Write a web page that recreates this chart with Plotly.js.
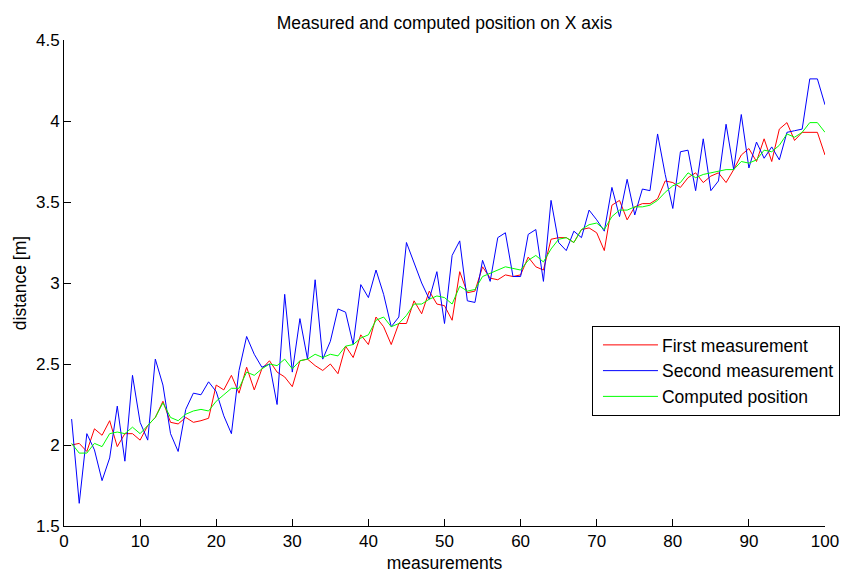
<!DOCTYPE html>
<html>
<head>
<meta charset="utf-8">
<script src="https://cdn.plot.ly/plotly-3.0.1.min.js"></script>
<style>
html,body{margin:0;padding:0;background:#fff;}
#chart{width:842px;height:573px;}
</style>
</head>
<body>
<div id="chart"></div>
<script>
const seriesNames = ["First measurement", "Second measurement", "Computed position"];
const seriesColors = ["#ff0000", "#0000ff", "#00ff00"];
const measurementIndex = Array.from({length: 100}, (_, k) => k + 1);

const firstMeasurement = [
  2.00, 2.01, 1.96, 2.10, 2.06, 2.15, 1.99, 2.07, 2.07, 2.03,
  2.12, 2.17, 2.27, 2.14, 2.13, 2.17, 2.14, 2.15, 2.165, 2.37,
  2.34, 2.43, 2.32, 2.48, 2.34, 2.47, 2.52, 2.45, 2.42, 2.36,
  2.52, 2.53, 2.49, 2.46, 2.50, 2.44, 2.61, 2.54, 2.68, 2.62,
  2.79, 2.73, 2.62, 2.75, 2.75, 2.89, 2.81, 2.95, 2.87, 2.86,
  2.77, 3.07, 2.94, 2.95, 3.10, 3.03, 3.02, 3.05, 3.04, 3.05,
  3.16, 3.10, 3.08, 3.27, 3.28, 3.28, 3.25, 3.33, 3.34, 3.31,
  3.20, 3.48, 3.51, 3.39, 3.47, 3.49, 3.49, 3.52, 3.63, 3.62,
  3.59, 3.65, 3.68, 3.62, 3.66, 3.68, 3.62, 3.70, 3.79, 3.83,
  3.75, 3.89, 3.75, 3.95, 3.99, 3.88, 3.93, 3.93, 3.93, 3.79
];

const secondMeasurement = [
  2.16, 1.64, 2.07, 1.97, 1.78, 1.92, 2.24, 1.90, 2.43, 2.14,
  2.03, 2.53, 2.37, 2.07, 1.96, 2.22, 2.32, 2.31, 2.39, 2.33,
  2.18, 2.07, 2.46, 2.67, 2.56, 2.48, 2.50, 2.25, 2.93, 2.45,
  2.78, 2.53, 3.02, 2.53, 2.64, 2.84, 2.82, 2.62, 2.99, 2.91,
  3.08, 2.93, 2.73, 2.79, 3.25, 3.13, 3.00, 2.90, 3.07, 2.75,
  3.17, 3.26, 2.89, 2.88, 3.14, 3.01, 3.28, 3.31, 3.04, 3.04,
  3.30, 3.33, 3.01, 3.51, 3.25, 3.20, 3.32, 3.28, 3.45, 3.39,
  3.32, 3.59, 3.41, 3.64, 3.42, 3.58, 3.57, 3.92, 3.67, 3.46,
  3.81, 3.82, 3.57, 3.89, 3.57, 3.63, 3.98, 3.70, 4.04, 3.71,
  3.87, 3.77, 3.84, 3.76, 3.93, 3.94, 3.95, 4.26, 4.26, 4.10
];

const computedPosition = [
  2.01, 1.95, 1.95, 2.01, 1.99, 2.07, 2.08, 2.07, 2.11, 2.07,
  2.12, 2.17, 2.26, 2.17, 2.15, 2.19, 2.21, 2.22, 2.21, 2.27,
  2.31, 2.35, 2.35, 2.45, 2.43, 2.47, 2.50, 2.49, 2.53, 2.47,
  2.52, 2.53, 2.56, 2.54, 2.56, 2.55, 2.61, 2.62, 2.66, 2.68,
  2.77, 2.79, 2.73, 2.75, 2.80, 2.87, 2.87, 2.90, 2.92, 2.91,
  2.87, 2.98, 2.95, 2.96, 3.04, 3.06, 3.08, 3.10, 3.09, 3.08,
  3.14, 3.17, 3.13, 3.21, 3.27, 3.28, 3.25, 3.33, 3.36, 3.37,
  3.33, 3.41, 3.45, 3.45, 3.47, 3.47, 3.48, 3.51, 3.56, 3.60,
  3.62, 3.68, 3.65, 3.67, 3.68, 3.69, 3.70, 3.70, 3.75, 3.74,
  3.76, 3.82, 3.81, 3.85, 3.92, 3.90, 3.93, 3.99, 3.99, 3.93
];

const xTickVals = [0, 10, 20, 30, 40, 50, 60, 70, 80, 90, 100];
const yTickVals = [1.5, 2, 2.5, 3, 3.5, 4, 4.5];
const yTickText = ["1.5", "2", "2.5", "3", "3.5", "4", "4.5"];

const allSeries = [firstMeasurement, secondMeasurement, computedPosition];
const FONT = "Liberation Sans, Arial, sans-serif";

const traces = allSeries.map((vals, s) => ({
  type: "scatter",
  mode: "lines",
  x: measurementIndex,
  y: vals,
  name: seriesNames[s],
  line: {color: seriesColors[s], width: 1},
  hoverinfo: "skip"
}));

const layout = {
  width: 842,
  height: 573,
  margin: {l: 64, r: 17, t: 40, b: 47, pad: 0, autoexpand: false},
  paper_bgcolor: "#ffffff",
  plot_bgcolor: "#ffffff",
  font: {family: FONT, size: 17, color: "#000"},
  title: {
    text: "Measured and computed position on X axis",
    font: {family: FONT, size: 17.5, color: "#000"},
    x: 0.5, xref: "paper", xanchor: "center",
    y: 1, yref: "paper", yanchor: "bottom",
    pad: {b: 11}
  },
  showlegend: true,
  legend: {
    x: 0.6938, y: 0.4115, xref: "paper", yref: "paper",
    xanchor: "left", yanchor: "top",
    bgcolor: "#ffffff",
    bordercolor: "#000000",
    borderwidth: 1,
    font: {family: FONT, size: 17.5, color: "#000"},
    tracegroupgap: 0,
    itemwidth: 59
  },
  xaxis: {
    range: [0, 100],
    tickmode: "array",
    tickvals: xTickVals,
    ticktext: xTickVals.map(String),
    ticks: "inside",
    ticklen: 7,
    tickwidth: 1,
    tickcolor: "#000",
    showline: true,
    linecolor: "#000",
    linewidth: 1,
    showgrid: false,
    zeroline: false,
    mirror: false,
    automargin: false,
    tickfont: {family: FONT, size: 17, color: "#000"},
    title: {text: "measurements", font: {family: FONT, size: 17.5, color: "#000"}, standoff: 7}
  },
  yaxis: {
    range: [1.5, 4.5],
    tickmode: "array",
    tickvals: yTickVals,
    ticktext: yTickText,
    ticks: "inside",
    ticklen: 7,
    tickwidth: 1,
    tickcolor: "#000",
    showline: true,
    linecolor: "#000",
    linewidth: 1,
    showgrid: false,
    zeroline: false,
    mirror: false,
    automargin: false,
    tickfont: {family: FONT, size: 17, color: "#000"},
    title: {text: "distance [m]", font: {family: FONT, size: 17.5, color: "#000"}, standoff: 4}
  }
};

Plotly.newPlot("chart", traces, layout, {staticPlot: true, displayModeBar: false}).then(gd => {
  // lengthen the legend line samples to match the reference style
  gd.querySelectorAll(".legend .legendlines path").forEach(p => {
    p.setAttribute("d", "M10,0h55");
  });
});
</script>
</body>
</html>
